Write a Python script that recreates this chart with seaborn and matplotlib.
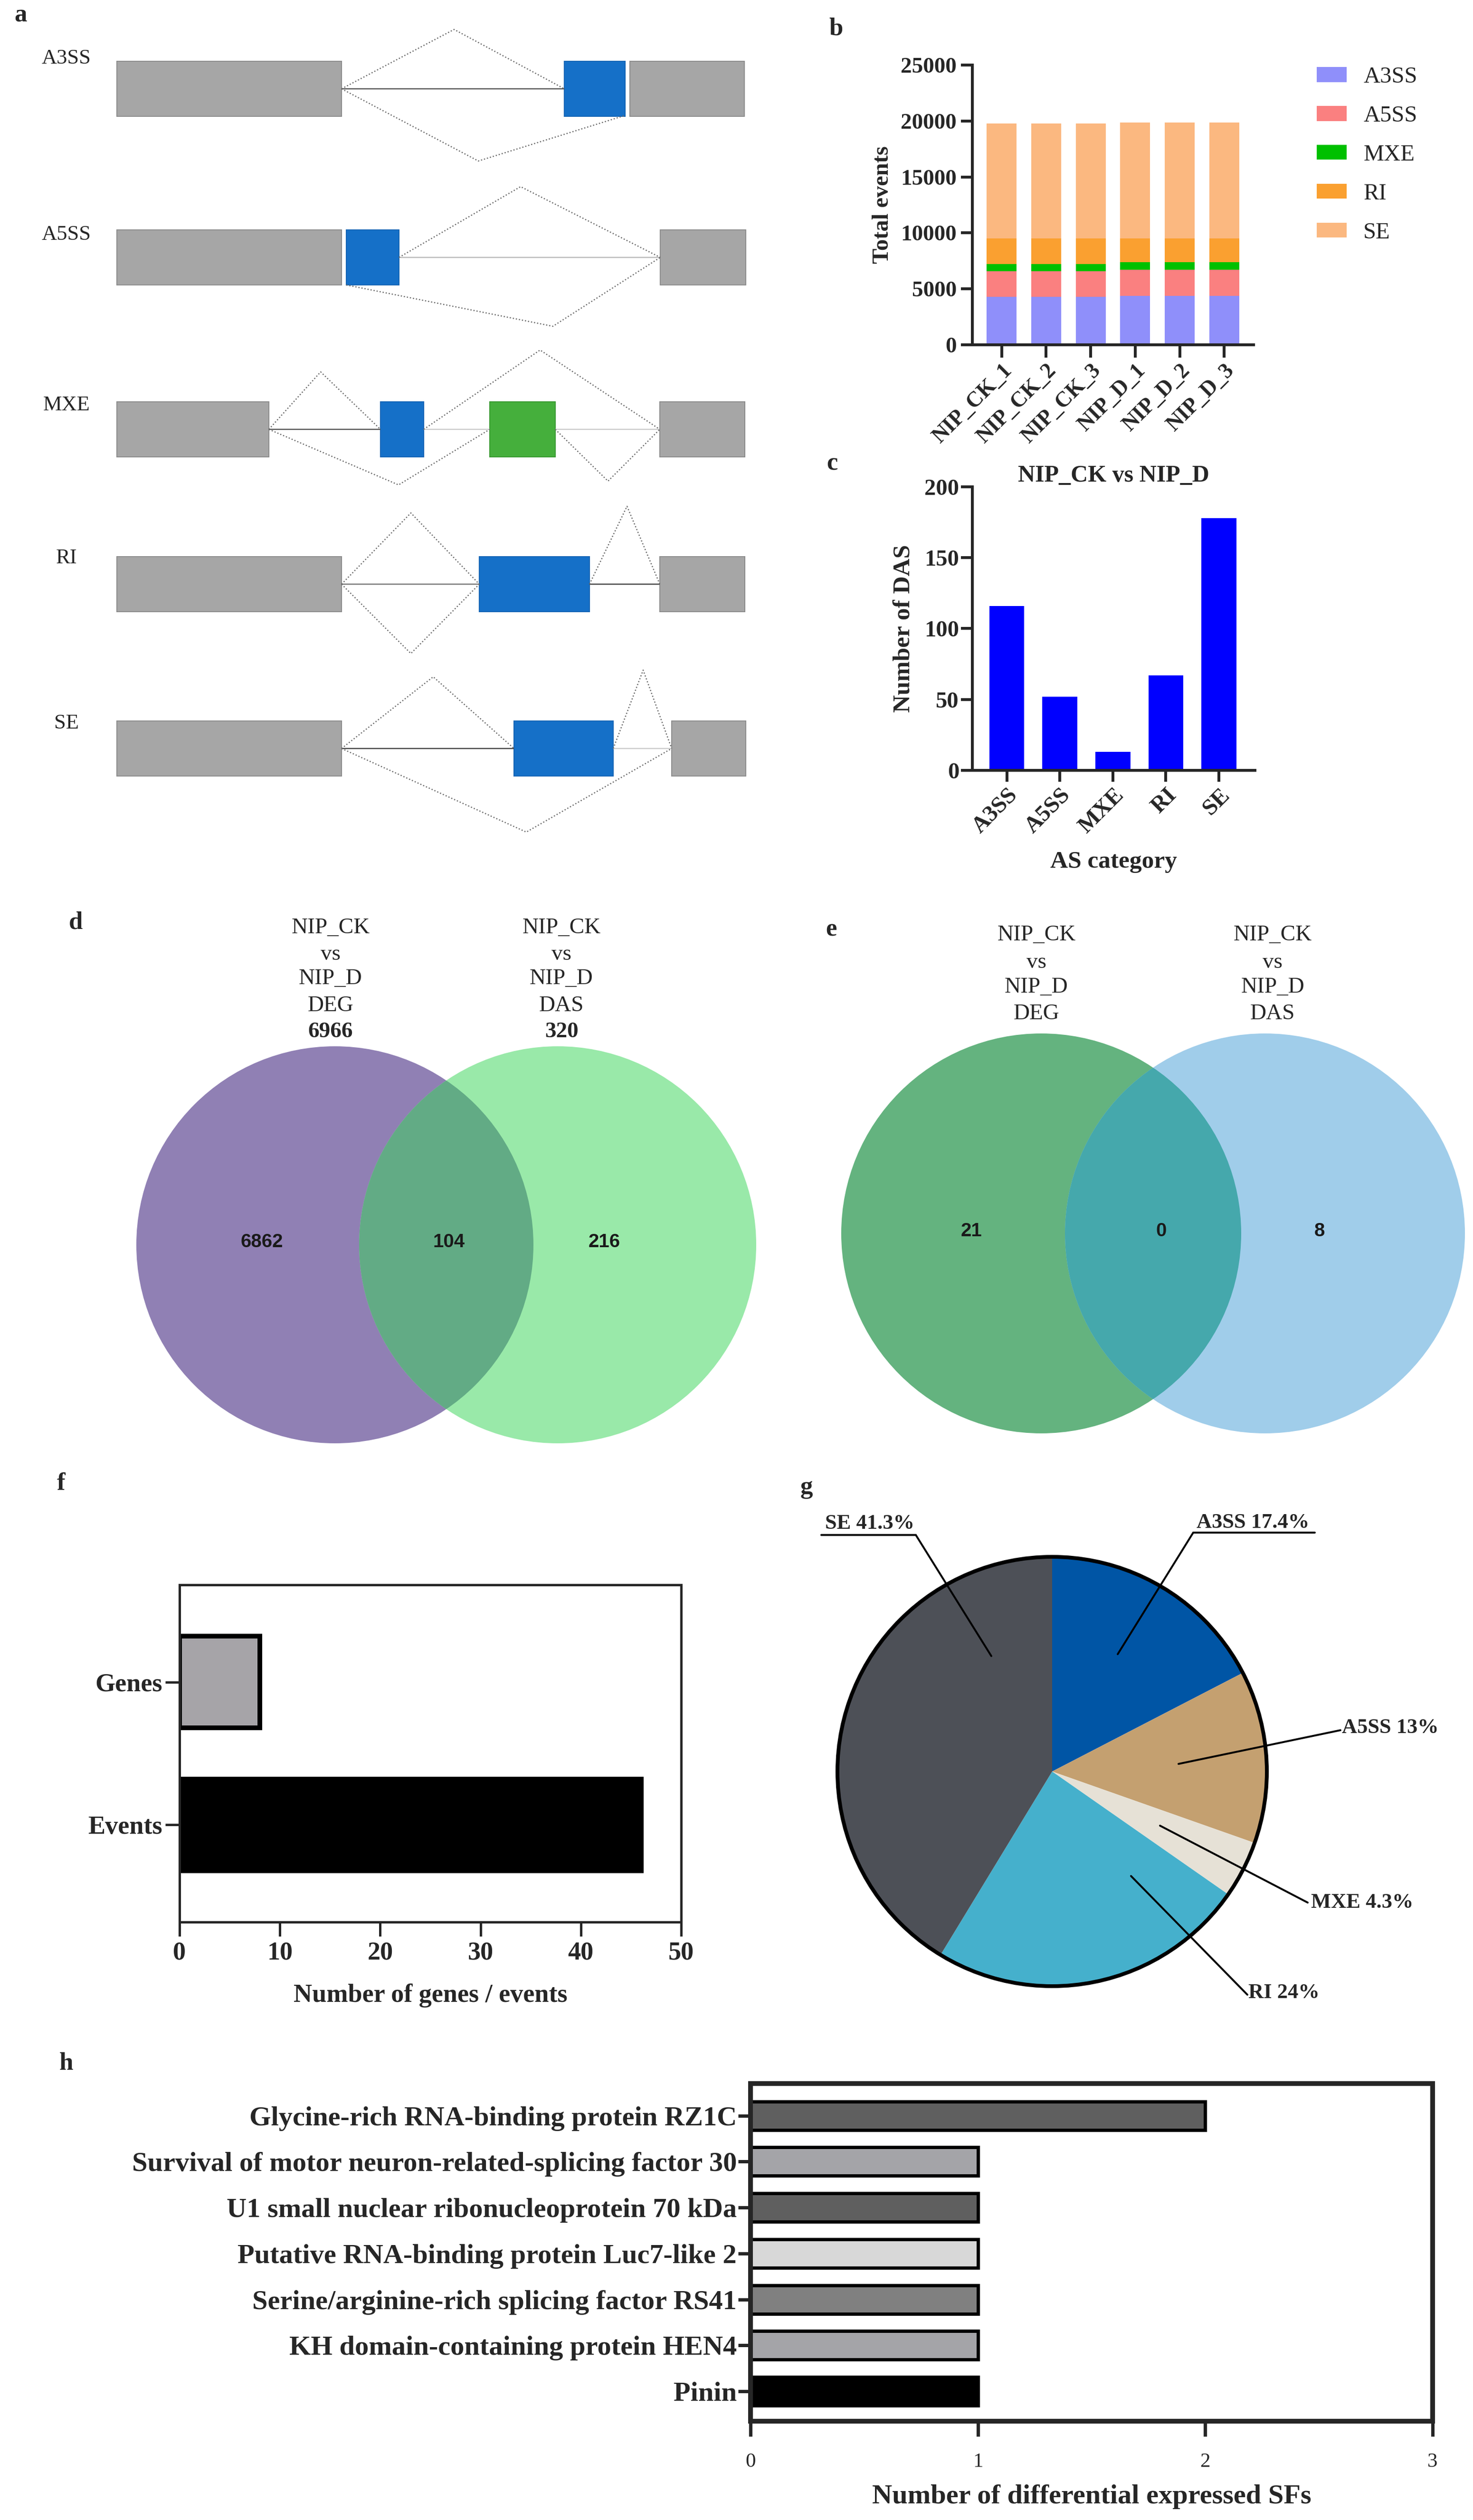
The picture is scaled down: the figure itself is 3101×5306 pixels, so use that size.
import numpy as np
import pandas as pd
import matplotlib
matplotlib.use("Agg")
import matplotlib.pyplot as plt
import seaborn as sns
from matplotlib.patches import Rectangle, Circle, Patch

# ------------------------------------------------------------------ data
# panel a : schematic of the five AS event types (diagram geometry)
event_types = ["A3SS", "A5SS", "MXE", "RI", "SE"]
schem_row_y = [187, 542, 904, 1230, 1576]
schem_label_y = [123, 494, 853, 1175, 1523]
schem_exons = [
    [(246, 719, "g"), (1188, 1316, "b"), (1326, 1567, "g")],
    [(246, 719, "g"), (729, 840, "b"), (1390, 1570, "g")],
    [(246, 566, "g"), (801, 892, "b"), (1031, 1169, "G"), (1389, 1568, "g")],
    [(246, 719, "g"), (1009, 1241, "b"), (1389, 1568, "g")],
    [(246, 719, "g"), (1082, 1291, "b"), (1414, 1570, "g")],
]
schem_junctions = [
    [[(719, 187), (956, 62), (1188, 187)], [(719, 187), (1007, 339), (1316, 243)]],
    [[(840, 542), (1096, 393), (1390, 542)], [(729, 600), (1164, 687), (1390, 542)]],
    [[(566, 904), (675, 783), (801, 904)], [(566, 904), (839, 1021), (1031, 904)],
     [(892, 904), (1137, 737), (1389, 904)], [(1169, 904), (1280, 1013), (1389, 904)]],
    [[(719, 1230), (865, 1080), (1009, 1230)], [(719, 1230), (865, 1376), (1009, 1230)],
     [(1241, 1230), (1320, 1066), (1389, 1230)]],
    [[(719, 1576), (912, 1425), (1082, 1576)], [(1291, 1576), (1354, 1411), (1414, 1576)],
     [(719, 1576), (1108, 1752), (1414, 1576)]],
]
schem_introns = [
    [(719, 1188, "#555555")],
    [(840, 1390, "#BBBBBB")],
    [(566, 801, "#555555"), (892, 1031, "#CCCCCC"), (1169, 1389, "#CCCCCC")],
    [(719, 1009, "#777777"), (1241, 1389, "#444444")],
    [(719, 1082, "#444444"), (1291, 1414, "#CCCCCC")],
]

# panel b : total AS events per sample
samples = ["NIP_CK_1", "NIP_CK_2", "NIP_CK_3", "NIP_D_1", "NIP_D_2", "NIP_D_3"]
a3ss_events = [4290, 4290, 4290, 4370, 4370, 4370]
a5ss_events = [2280, 2280, 2280, 2320, 2320, 2320]
mxe_events = [660, 660, 660, 690, 690, 690]
ri_events = [2280, 2280, 2280, 2130, 2130, 2130]
se_events = [10270, 10270, 10270, 10340, 10340, 10340]
stack_colors = ["#8F8FFA", "#FA8080", "#00C000", "#FAA030", "#FBB880"]

# panel c : number of DAS events per category
das_counts = [116, 52, 13, 67, 178]

# panel d / e : Venn counts (left only, overlap, right only) and set totals
venn_d_counts = [6862, 104, 216]
venn_d_totals = [6966, 320]
venn_e_counts = [21, 0, 8]
venn_set_names = ["DEG", "DAS"]

# panel f : genes / events
f_categories = ["Genes", "Events"]
f_values = [8, 46]

# panel g : AS type share (%)
pie_pct = [17.4, 13, 4.3, 24, 41.3]
pie_colors = ["#0055A5", "#C4A070", "#E6E1D6", "#45B0CC", "#4D5057"]

# panel h : differentially expressed splicing factors
sf_names = ["Glycine-rich RNA-binding protein RZ1C",
            "Survival of motor neuron-related-splicing factor 30",
            "U1 small nuclear ribonucleoprotein 70 kDa",
            "Putative RNA-binding protein Luc7-like 2",
            "Serine/arginine-rich splicing factor RS41",
            "KH domain-containing protein HEN4",
            "Pinin"]
sf_counts = [2, 1, 1, 1, 1, 1, 1]
sf_colors = ["#5F5F5F", "#A4A4A8", "#5F5F5F", "#D8D8D8", "#808080", "#A4A4A8", "#000000"]

# ------------------------------------------------------------------ setup
sns.set_style("ticks")
plt.rcParams["font.family"] = ["Liberation Serif", "DejaVu Serif"]
plt.rcParams["axes.linewidth"] = 4

W, H = 3101, 5306
fig = plt.figure(figsize=(W / 100, H / 100), dpi=100)
fig.patch.set_facecolor("white")


def add_ax(x0, y0, x1, y1):
    return fig.add_axes([x0 / W, 1 - y1 / H, (x1 - x0) / W, (y1 - y0) / H])


def pt(px):
    return px * 0.72


def bold_ticklabels(ax):
    for lab in ax.get_xticklabels() + ax.get_yticklabels():
        lab.set_fontweight("bold")


# panel letters
for letter, (lx, ly) in zip("abcdefgh", [(30, 32), (1745, 61), (1740, 976), (145, 1942),
                                        (1738, 1958), (120, 3124), (1685, 3132), (125, 4345)]):
    fig.text(lx / W, 1 - ly / H, letter, fontsize=38, fontweight="bold", ha="left", va="center")

# ------------------------------------------------------------------ panel a
axA = add_ax(0, 0, 1600, 1780)
axA.set_xlim(0, 1600)
axA.set_ylim(1780, 0)
axA.axis("off")
exon_style = {"g": ("#A6A6A6", "#8C8C8C"), "b": ("#1570C8", "#1565B5"), "G": ("#45AF3C", "#3A9A33")}
for name, yc, ly, exons, juncs, introns in zip(event_types, schem_row_y, schem_label_y,
                                               schem_exons, schem_junctions, schem_introns):
    for x0, x1, col in introns:
        axA.plot([x0, x1], [yc, yc], color=col, lw=pt(2.5), solid_capstyle="butt")
    for path in juncs:
        xs, ys = zip(*path)
        axA.plot(xs, ys, color="#6A6A6A", lw=pt(2.5), ls=(0, (1.0, 1.6)))
    for x0, x1, k in exons:
        fc, ec = exon_style[k]
        axA.add_patch(Rectangle((x0, yc - 58), x1 - x0, 116, facecolor=fc, edgecolor=ec, lw=pt(2)))
    axA.text(140, ly, name, fontsize=32, ha="center", va="center")

# ------------------------------------------------------------------ panel b
axB = add_ax(2047, 137, 2639, 726)
layers = np.array([a3ss_events, a5ss_events, mxe_events, ri_events, se_events])
cum = np.cumsum(layers, axis=0)
for i in reversed(range(len(event_types))):
    sns.barplot(x=samples, y=cum[i], color=stack_colors[i], saturation=1, width=0.67,
                errorbar=None, edgecolor="none", linewidth=0, ax=axB)
axB.set_xlim(-0.66, 5.66)
axB.set_ylim(0, 25000)
axB.set_yticks([0, 5000, 10000, 15000, 20000, 25000])
sns.despine(ax=axB)
for s in ["left", "bottom"]:
    axB.spines[s].set_linewidth(pt(6))
axB.tick_params(axis="y", length=pt(24), width=pt(6), labelsize=34, pad=pt(9))
axB.tick_params(axis="x", length=pt(27), width=pt(6), labelsize=33, pad=pt(6))
axB.set_xticks(range(len(samples)))
axB.set_xticklabels(samples, rotation=45, ha="right", va="top", rotation_mode="anchor")
bold_ticklabels(axB)
axB.set_xlabel("")
axB.set_ylabel("Total events", fontsize=35, fontweight="bold")
axB.yaxis.set_label_coords((1880 - 2047) / 592, 0.5)
handles = [Patch(facecolor=c, edgecolor="none", label=t) for t, c in zip(event_types, stack_colors)]
axB.legend(handles=handles, loc="upper left", bbox_to_anchor=(2772 / W, 1 - 140 / H),
           bbox_transform=fig.transFigure, frameon=False, fontsize=35, handlelength=1.3,
           handleheight=0.62, handletextpad=0.72, labelspacing=0.78, borderpad=0, borderaxespad=0)

# ------------------------------------------------------------------ panel c
axC = add_ax(2047, 1025, 2642, 1622)
sns.barplot(x=event_types, y=das_counts, color="#0000FF", saturation=1, width=0.66,
            errorbar=None, edgecolor="none", linewidth=0, ax=axC)
axC.set_xlim(-0.65, 4.68)
axC.set_ylim(0, 200)
axC.set_yticks([0, 50, 100, 150, 200])
sns.despine(ax=axC)
for s in ["left", "bottom"]:
    axC.spines[s].set_linewidth(pt(6))
axC.tick_params(axis="y", length=pt(24), width=pt(6), labelsize=35, pad=pt(4))
axC.tick_params(axis="x", length=pt(24), width=pt(6), labelsize=35, pad=pt(6))
axC.set_xticks(range(len(event_types)))
axC.set_xticklabels(event_types, rotation=45, ha="right", va="top", rotation_mode="anchor")
bold_ticklabels(axC)
axC.set_title("NIP_CK vs NIP_D", fontsize=36, fontweight="bold", pad=pt(8))
axC.set_ylabel("Number of DAS", fontsize=37, fontweight="bold")
axC.yaxis.set_label_coords((1925 - 2047) / 595, 0.5)
axC.set_xlabel("AS category", fontsize=37, fontweight="bold")
axC.xaxis.set_label_coords(0.5, -(1792 - 1622) / 597)


# ------------------------------------------------------------------ panels d, e (Venn)
def venn(ax, c1, c2, cy, r, col1, col2, col12, counts, num_pos):
    p1 = Circle((c1, cy), r, facecolor=col1, edgecolor="none")
    ax.add_patch(p1)
    p2 = Circle((c2, cy), r, facecolor=col2, edgecolor="none")
    ax.add_patch(p2)
    p3 = Circle((c2, cy), r, facecolor=col12, edgecolor="none")
    ax.add_patch(p3)
    p3.set_clip_path(p1)
    for (x, y), n in zip(num_pos, counts):
        ax.text(x, y, str(n), fontsize=29, fontweight="bold", ha="center", va="center",
                color="#1A1A1A", family=["Liberation Sans", "DejaVu Sans"])


axD = add_ax(0, 1850, 1600, 3050)
axD.set_xlim(0, 1600)
axD.set_ylim(3050, 1850)
axD.axis("off")
venn(axD, 705, 1174, 2621, 418, "#9080B4", "#99E9A9", "#62AB85", venn_d_counts,
     [(551, 2615), (945, 2615), (1272, 2615)])
for cx, setname, tot in zip([696, 1182], venn_set_names, venn_d_totals):
    for txt, y in zip(["NIP_CK", "vs", "NIP_D", setname], [1954, 2010, 2061, 2118]):
        axD.text(cx, y, txt, fontsize=34, ha="center", va="center")
    axD.text(cx, 2173, str(tot), fontsize=34, fontweight="bold", ha="center", va="center")

axE = add_ax(1600, 1850, 3101, 3050)
axE.set_xlim(1600, 3101)
axE.set_ylim(3050, 1850)
axE.axis("off")
venn(axE, 2192, 2663, 2597, 421, "#64B37F", "#A0CDEA", "#45A8AC", venn_e_counts,
     [(2045, 2592), (2445, 2592), (2778, 2592)])
for cx, setname in zip([2182, 2679], venn_set_names):
    for txt, y in zip(["NIP_CK", "vs", "NIP_D", setname], [1969, 2027, 2079, 2135]):
        axE.text(cx, y, txt, fontsize=34, ha="center", va="center")

# ------------------------------------------------------------------ panel f
axF = add_ax(378, 3337, 1434, 4047)
sns.barplot(x=f_values, y=f_categories, orient="y", hue=f_categories,
            palette=["#A6A4A8", "#000000"], legend=False, saturation=1, width=0.64,
            errorbar=None, edgecolor="black", linewidth=pt(10), ax=axF)
axF.set_xlim(0, 50)
axF.set_ylim(1.68, -0.68)
axF.set_xticks([0, 10, 20, 30, 40, 50])
for s in axF.spines.values():
    s.set_visible(True)
    s.set_linewidth(pt(5))
axF.tick_params(axis="x", length=pt(30), width=pt(5), labelsize=39, pad=pt(10))
axF.tick_params(axis="y", length=pt(30), width=pt(5), labelsize=39, pad=pt(6))
bold_ticklabels(axF)
axF.set_ylabel("")
axF.set_xlabel("Number of genes / events", fontsize=39, fontweight="bold")
axF.xaxis.set_label_coords(0.5, -(4176 - 4047) / 710)

# ------------------------------------------------------------------ panel g (pie)
axG = add_ax(1550, 3050, 3101, 4420)
axG.pie(pie_pct, colors=pie_colors, startangle=90, counterclock=False,
        center=(2215, H - 3730), radius=452, wedgeprops=dict(linewidth=0, edgecolor="none"))
axG.add_patch(Circle((2215, H - 3730), 452, fill=False, edgecolor="black", lw=pt(8)))
axG.set_xlim(1550, 3101)
axG.set_ylim(H - 4420, H - 3050)
axG.set_aspect("auto")
axG.axis("off")
pie_labels = [f"{t} {p:g}%" for t, p in zip(event_types, pie_pct)]
# label text anchor, leader line (outer point, inner point), underline span
label_layout = [
    ((2519, 3206), (2512, 3227), (2353, 3483), (2512, 2768)),
    ((2825, 3638), (2822, 3643), (2481, 3714), None),
    ((2760, 4006), (2753, 4006), (2442, 3844), None),
    ((2628, 4196), (2626, 4200), (2381, 3950), None),
    ((1737, 3208), (1928, 3232), (2087, 3487), (1729, 1928)),
]
for lab, (tpos, p_out, p_in, ul) in zip(pie_labels, label_layout):
    axG.text(tpos[0], H - tpos[1], lab, fontsize=32, fontweight="bold", ha="left", va="center")
    axG.plot([p_out[0], p_in[0]], [H - p_out[1], H - p_in[1]], color="black", lw=pt(4))
    if ul is not None:
        axG.plot([ul[0], ul[1]], [H - p_out[1], H - p_out[1]], color="black", lw=pt(4))

# ------------------------------------------------------------------ panel h
axH = add_ax(1580, 4387, 3016, 5098)
sns.barplot(x=sf_counts, y=sf_names, orient="y", hue=sf_names, palette=sf_colors,
            legend=False, saturation=1, width=0.62, errorbar=None, edgecolor="black",
            linewidth=pt(7), ax=axH)
axH.set_xlim(0, 3)
axH.set_ylim(6.65, -0.70)
axH.set_xticks([0, 1, 2, 3])
for s in axH.spines.values():
    s.set_visible(True)
    s.set_linewidth(pt(10))
axH.tick_params(axis="x", length=pt(32), width=pt(7), labelsize=31, pad=pt(34))
axH.tick_params(axis="y", length=pt(26), width=pt(7), labelsize=42, pad=pt(3))
for lab in axH.get_yticklabels():
    lab.set_fontweight("bold")
axH.set_ylabel("")
axH.set_xlabel("Number of differential expressed SFs", fontsize=42, fontweight="bold")
axH.xaxis.set_label_coords(0.5, -(5231 - 5098) / 711)

fig.savefig("out.png", dpi=100, facecolor="white")
